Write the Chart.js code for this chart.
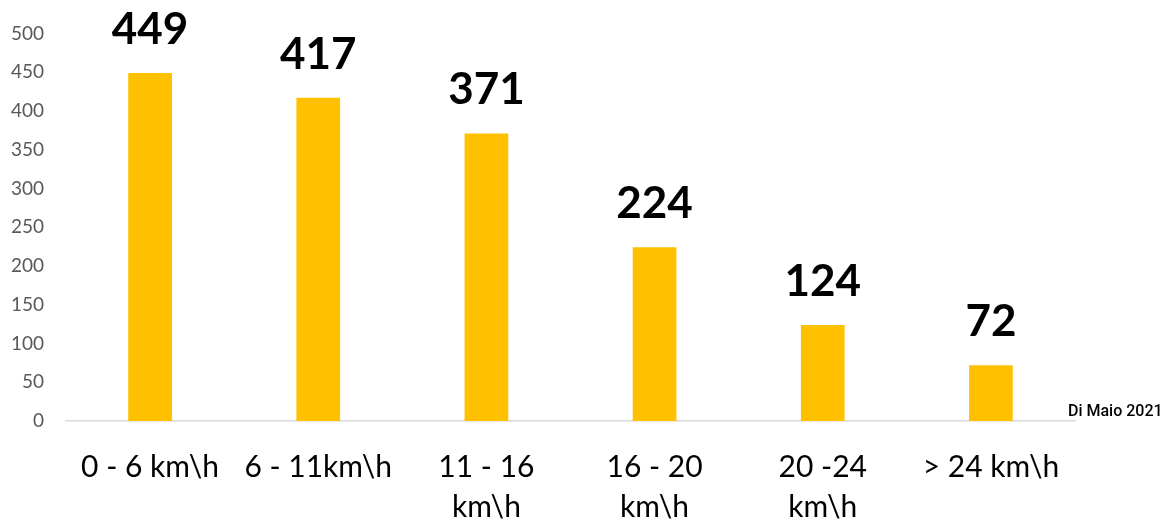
<!DOCTYPE html>
<html>
<head>
<meta charset="utf-8">
<script src="https://cdn.jsdelivr.net/npm/chart.js@4"></script>
<style>
  html, body { margin: 0; padding: 0; background: #fff; }
  #wrap { width: 1171px; height: 519px; position: relative; }
</style>
</head>
<body>
<div id="wrap"><canvas id="chart"></canvas></div>
<script>
const categories = [
  '0 - 6 km\\h',
  '6 - 11km\\h',
  ['11 - 16', 'km\\h'],
  ['16 - 20', 'km\\h'],
  ['20 -24', 'km\\h'],
  '> 24 km\\h',
]
const counts = [449, 417, 371, 224, 124, 72]
const yTicks = [0, 50, 100, 150, 200, 250, 300, 350, 400, 450, 500]
const sourceNote = 'Di Maio 2021'

// value labels above each bar plus the source note at the end of the axis
const barLabels = {
  id: 'barLabels',
  afterDatasetsDraw(chart) {
    const { ctx, chartArea } = chart
    const meta = chart.getDatasetMeta(0)
    ctx.save()
    ctx.fillStyle = '#000'
    ctx.font = 'bold 44px Lato'
    ctx.textAlign = 'center'
    ctx.textBaseline = 'alphabetic'
    meta.data.forEach((bar, i) => {
      ctx.fillText(String(counts[i]), bar.x, bar.y - 29)
    })
    ctx.font = '500 16px Roboto'
    ctx.textAlign = 'left'
    ctx.fillText(sourceNote, chartArea.right - 7, chartArea.bottom - 5)
    ctx.restore()
  },
}

new Chart(document.getElementById('chart'), {
  type: 'bar',
  data: {
    labels: categories,
    datasets: [
      {
        data: counts,
        backgroundColor: '#FFC000',
        borderWidth: 0,
        categoryPercentage: 1,
        barPercentage: 0.26,
      },
    ],
  },
  options: {
    responsive: true,
    maintainAspectRatio: false,
    animation: false,
    layout: { padding: { top: 28, right: 96, left: 0, bottom: 0 } },
    plugins: {
      legend: { display: false },
      tooltip: { enabled: false },
    },
    scales: {
      x: {
        grid: { display: false, drawTicks: false },
        border: { display: true, color: '#d9d9d9', width: 1.5 },
        ticks: {
          color: '#000',
          font: { family: 'Lato', size: 30, lineHeight: 1.33 },
          padding: 26,
          maxRotation: 0,
          autoSkip: false,
        },
        afterFit: (scale) => {
          scale.height = 98
        },
      },
      y: {
        min: 0,
        max: 500,
        grid: { display: false, drawTicks: false },
        border: { display: false },
        afterBuildTicks: (scale) => {
          scale.ticks = yTicks.map((v) => ({ value: v }))
        },
        ticks: {
          color: '#595959',
          font: { family: 'Lato', size: 19 },
          padding: 22,
        },
        afterFit: (scale) => {
          scale.width = 66
        },
      },
    },
  },
  plugins: [barLabels],
})
</script>
</body>
</html>
